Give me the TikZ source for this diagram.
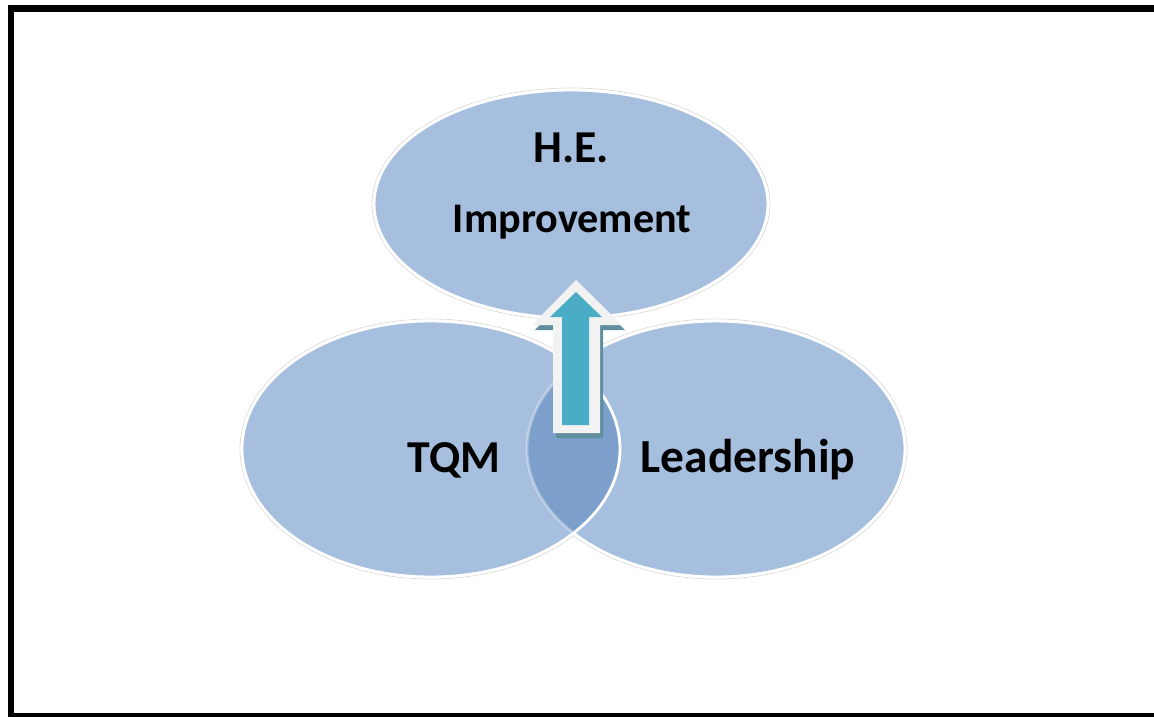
\documentclass[tikz,border=0pt]{standalone}
\usepackage{fontspec}
\setmainfont{Carlito}
\usetikzlibrary{shapes.geometric}
\definecolor{vennblue}{HTML}{A7BFDE}
\definecolor{venndark}{HTML}{7C9FCB}
\definecolor{arrowteal}{HTML}{4BACC6}
\definecolor{arrowrim}{HTML}{F2F2F2}
\definecolor{arrowshade}{HTML}{5F8E9E}

\begin{document}
\begin{tikzpicture}[x=0.02cm, y=-0.02cm]
    \tikzset{vennset/.style={ellipse, inner sep=0pt, fill=vennblue,
            draw=white, line width=1.6pt},
        vennrim/.style={draw=black!15, line width=0.4pt},
        venntext/.style={anchor=base, inner sep=0pt}}
    \useasboundingbox (0,0) rectangle (1154,717);
    \draw[line width=0.14cm] (11,8) rectangle (1160,716.5);
    % faint rims round the sets
    \draw[vennrim] (571,204) ellipse [x radius=199, y radius=116];
    \draw[vennrim] (716,449) ellipse [x radius=191, y radius=130];
    \draw[vennrim] (431,449) ellipse [x radius=191, y radius=130];
    \node[vennset, minimum width=7.88cm, minimum height=4.56cm] (he) at (571,204) {};
    \node[vennset, minimum width=7.56cm, minimum height=5.12cm] (lead) at (716,449) {};
    \node[vennset, draw=none, minimum width=7.56cm, minimum height=5.12cm] (tqm) at (431,449) {};
    \begin{scope}
        \clip (tqm.center) ellipse [x radius=189, y radius=128];
        \fill[venndark] (lead.center) ellipse [x radius=189, y radius=128];
        \draw[white, opacity=0.35, line width=1.6pt] (lead.center) ellipse [x radius=189, y radius=128];
    \end{scope}
    \draw[white, line width=1.6pt] (tqm.center) ellipse [x radius=189, y radius=128];
    % block arrow up into H.E.
    \coordinate (tip) at (576,280);
    \coordinate (innertip) at (576,292);
    \fill[arrowshade] ([shift={(3,5)}]tip) -- ++(-44,45) -- ++(21,0) -- ++(0,108)
        -- ++(47,0) -- ++(0,-108) -- ++(22,0) -- cycle;
    \fill[arrowrim] (tip) -- ++(-44,45) -- ++(21,0) -- ++(0,108)
        -- ++(47,0) -- ++(0,-108) -- ++(22,0) -- cycle;
    \fill[arrowteal] (innertip) -- ++(-26,25) -- ++(12,0) -- ++(0,108)
        -- ++(27,0) -- ++(0,-108) -- ++(13,0) -- cycle;
    \node[venntext, font=\bfseries\fontsize{26}{30}\selectfont] (hetitle) at (571,162) {H.E.};
    \node[venntext, font=\bfseries\fontsize{24}{28}\selectfont] (hesub) at (572,232) {Improvement};
    \node[venntext, font=\bfseries\fontsize{26}{30}\selectfont] (tqmtext) at (454,472) {TQM};
    \node[venntext, font=\bfseries\fontsize{27}{31}\selectfont] (leadtext) at (748,472) {Leadership};
\end{tikzpicture}
\end{document}
